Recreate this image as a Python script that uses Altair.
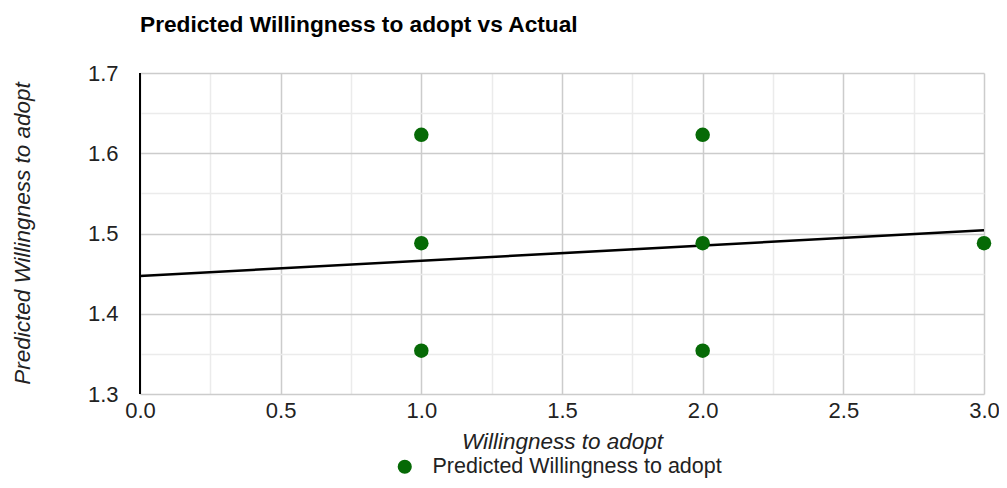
import altair as alt
import pandas as pd

# Data
actual = [1, 1, 1, 2, 2, 2, 3]
predicted = [1.623, 1.488, 1.354, 1.623, 1.488, 1.354, 1.488]
series_name = "Predicted Willingness to adopt"

trend_x = [0, 3]
trend_y = [1.447, 1.504]

x_ticks = [0, 0.25, 0.5, 0.75, 1, 1.25, 1.5, 1.75, 2, 2.25, 2.5, 2.75, 3]
y_ticks = [1.3, 1.35, 1.4, 1.45, 1.5, 1.55, 1.6, 1.65, 1.7]

pts = pd.DataFrame({"x": actual, "y": predicted, "series": [series_name] * len(actual)})
trend = pd.DataFrame({"x": trend_x, "y": trend_y})

FONT = "Liberation Sans"

x_scale = alt.Scale(domain=[0, 3], nice=False, zero=False)
y_scale = alt.Scale(domain=[1.3, 1.7], nice=False, zero=False)

x_axis = alt.Axis(
    values=x_ticks,
    labelExpr="(datum.value * 2) % 1 === 0 ? format(datum.value, '.1f') : ''",
    gridColor={"condition": {"test": "(datum.value * 2) % 1 === 0", "value": "#cccccc"}, "value": "#ebebeb"},
    gridWidth=1.5,
    ticks=False,
    domain=False,
    labelFlush=False,
    labelOverlap=False,
    labelPadding=6,
    labelFontSize=22,
    labelColor="#222222",
    labelFont=FONT,
    title="Willingness to adopt",
    titleFont=FONT,
    titleFontSize=22.5,
    titleFontStyle="italic",
    titleFontWeight="normal",
    titleColor="#222222",
    titleY=47,
    titleBaseline="middle",
)

y_axis = alt.Axis(
    values=y_ticks,
    labelExpr="round(datum.value * 100) % 10 === 0 ? format(datum.value, '.1f') : ''",
    gridColor={"condition": {"test": "round(datum.value * 100) % 10 === 0", "value": "#cccccc"}, "value": "#ebebeb"},
    gridWidth=1.5,
    ticks=False,
    domain=False,
    labelFlush=False,
    labelOverlap=False,
    labelPadding=22,
    labelFontSize=22,
    labelColor="#222222",
    labelFont=FONT,
    title="Predicted Willingness to adopt",
    titleFont=FONT,
    titleFontSize=22.5,
    titleFontStyle="italic",
    titleFontWeight="normal",
    titleColor="#222222",
    titleX=-118,
    titleY=160,
    titleAngle=-90,
    titleAlign="center",
    titleBaseline="middle",
)

points = alt.Chart(pts).mark_circle(size=210, opacity=1).encode(
    x=alt.X("x:Q", scale=x_scale, axis=x_axis),
    y=alt.Y("y:Q", scale=y_scale, axis=y_axis),
    color=alt.Color(
        "series:N",
        scale=alt.Scale(range=["#066a06"]),
        legend=alt.Legend(
            title=None,
            orient="none",
            legendX=254,
            legendY=383,
            symbolType="circle",
            symbolSize=200,
            labelFont=FONT,
            labelFontSize=21.5,
            labelColor="#222222",
            labelOffset=17,
            labelLimit=0,
        ),
    ),
)

baseline = alt.Chart(pd.DataFrame({"x": [0]})).mark_rule(color="#000000", strokeWidth=2).encode(
    x=alt.X("x:Q", scale=x_scale)
)

line = alt.Chart(trend).mark_line(color="#000000", strokeWidth=2.5).encode(
    x=alt.X("x:Q", scale=x_scale),
    y=alt.Y("y:Q", scale=y_scale),
)

chart = alt.layer(baseline, line, points).properties(
    width=844,
    height=321,
    title=alt.TitleParams(
        "Predicted Willingness to adopt vs Actual",
        anchor="start",
        frame="group",
        font=FONT,
        fontSize=22.7,
        fontWeight="bold",
        color="#000000",
        offset=25,
    ),
    autosize=alt.AutoSizeParams(type="none"),
    padding={"left": 132, "top": 65, "right": 15, "bottom": 86},
).configure_view(stroke=None)

chart.save("out.html", embed_options={"renderer": "svg", "actions": False})
